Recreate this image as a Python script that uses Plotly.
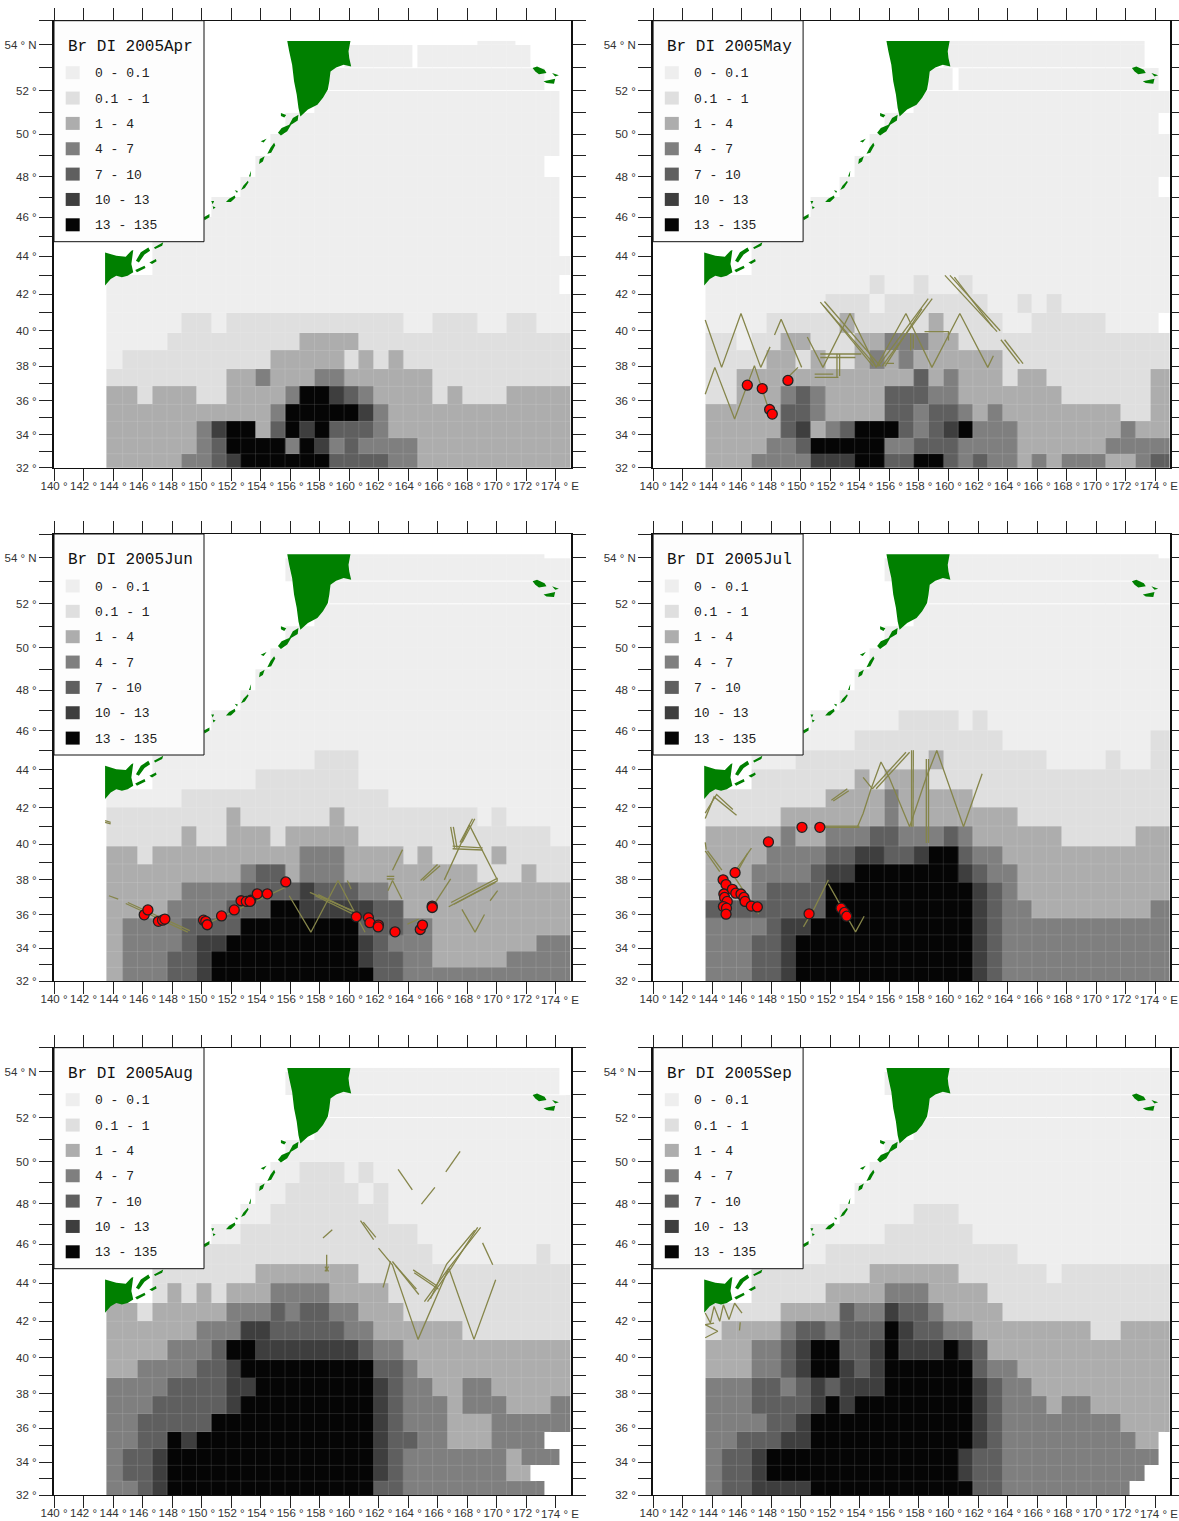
import math
import plotly.graph_objects as go

W, H = 1179, 1521
months = ["Apr", "May", "Jun", "Jul", "Aug", "Sep"]
class_labels = ["0 - 0.1", "0.1 - 1", "1 - 4", "4 - 7", "7 - 10", "10 - 13", "13 - 135"]
class_colors = ["#EEEEEE", "#DFDFDF", "#ADADAD", "#7F7F7F", "#5F5F5F", "#3E3E3E", "#050505"]

row_edges_lat = [32, 32.85, 33.8, 34.8, 35.8, 36.85, 37.85, 38.9, 39.9, 41, 42, 43, 44, 45, 46, 47, 48,
                 49, 50, 51, 52, 53, 54, 54.15]
bright_row_tops = [52, 53]

# run-length rows, bottom row first: "class*count", "." is an empty cell
apr_rows = [
 "2*5 3*2 4 5 6*6 4*4 3*2 2*11", "2*6 3 4 6*4 3 6 5 3 4 3*4 2*11",
 "2*6 3 5 6*2 2 4 6 5 6 4 4 4 3 2*2 2*11", "2*11 3 6*5 5 3 2*13",
 "2*2 1 2*3 1*2 2*3 2 3 6*2 5 4 3 2*4 1 2 1*3 2*5", "1*8 2*2 3 2*3 3*2 2*6 1*10",
 "0 1*10 2*5 1 2 1 2 1*12", "0*4 1*9 2*4 1*15", "0*5 1*2 0 1*12 0*2 1*3 0*2 1*2 0*3",
 "0*32", "0*31 .", ".*3 0*29", ".*3 0*28 .", ".*6 0*25 .", ".*7 0*24 .", ".*9 0*22 .", ".*10 0*20 .*2",
 ".*11 0*20 .", ".*12 0*19 .", ".*14 0*17 .", ".*15 0*15 .*2", ".*16 0*13 .*3", ".*25 0*3 .*4",
]
may_rows = [
 "2*3 3*4 5*3 6*2 4*2 6*2 4 3 4 3*2 2 3 2 3*3 2*2 3 4*2", "2*4 3*2 4 6*5 3*2 4*3 3*4 2*6 3*5",
 "2*5 4 5 2 3 4 6*3 4 3 4 5 6 3*3 2*7 3 2*3", "2*5 4*2 3 2*4 4*2 3 4*2 3 2 3 2*8 1*2 2*2",
 "1*2 2*3 3 4 3 2*4 4*3 3*2 2*7 1*6 2*2", "1*2 2*12 4 2 3 2*3 1 2*2 1*7 2*2",
 "1*4 2*2 1 2 1*2 2 3 2 3 2*6 1*12", "1*2 0 1*2 2*2 1*3 2*2 3*3 2*2 1*15",
 "0*4 1*5 2 1*5 2 1*4 0*2 1*5 0*4 .", "0*8 1*3 0 1*7 0*2 1 0 1 0*8", "0*11 1 0*2 1 0*2 1 0*14",
 ".*3 0*29", ".*3 0*29", ".*6 0*26", ".*7 0*25", ".*9 0*22 .", ".*10 0*22", ".*11 0*21", ".*12 0*19 .",
 ".*14 0*18", ".*15 0*16 .", ".*16 0*14 .*2", ".*16 0*14 .*2",
]
jun_rows = [
 "2 3*3 4*2 5 6*11 4*2 3*12", "2 3*3 4*2 5 6*10 5 4*2 3*2 2*5 3*5", "2 3*4 4 5*2 6*9 5 4 3*3 2*7 3*3",
 "2 3*4 4*4 6*8 4 4*2 3*2 2*10", "2*4 3*4 4*3 6*2 5*4 5 4*2 2*12", "2*5 3*4 4*4 5 4*3 3*2 2*13",
 "2*9 3 4*2 2 3*3 2*9 1*3 2 1*3", "2*2 1 2*10 3*3 2*4 1 2 1*4 2 1*5", "1*5 2 1*2 2*3 1 2*5 1*13 0*2",
 "1*8 2 1*6 2 1*9 0 1 0*5", "0*5 1*14 0*13", ".*3 0*7 1*7 0*15", ".*3 0*11 1*3 0*15",
 ".*6 0*26", ".*7 0*25", ".*9 0*23", ".*10 0*22", ".*11 0*21", ".*12 0*20", ".*14 0*18", ".*15 0*17",
 ".*12 0*20", ".*16 0*14 .*2",
]
jul_rows = [
 "3*3 4*2 5 6*12 5 4 3*12", "3*3 4*2 5 6*12 5 4 3*12", "3*3 4*2 5 6*12 5 4 3*12",
 "3*4 4 5*2 6*11 5 4 3*12", "4*8 6*10 5 4 3*2 2*8 3*2", "2*3 3 4*4 6*10 5 4 3 2*11",
 "2*3 3*4 4 5*2 6*7 5 4 3*2 2*11", "2*4 3*4 4*2 5*2 4*2 5 6*2 4 3*2 2*12",
 "2*5 3 2*2 3*3 4*2 3*3 4 3 2*6 1*5 2*3", "1*5 2*7 3 2*8 1*11", "1*8 2*4 3 2*5 1*14",
 ".*3 1*7 2 1 2*3 1*17", ".*3 0*3 1*9 2 1*7 0*4 1 0*2 1*2", ".*6 0*4 1*10 0*10 1*2",
 ".*7 0*6 1*4 0 1 0*13", ".*9 0*23", ".*10 0*22", ".*11 0*21", ".*12 0*20", ".*14 0*18", ".*15 0*17",
 ".*12 0*20", ".*16 0*15 .",
]
aug_rows = [
 "3*2 4 5 6*14 4*2 3*10 .*2", "3 4*2 5 6*14 5 4 3*7 2*2 .*3", "3 4*2 5 6*14 5 4 3*7 2 3*3 .",
 "3*2 4*2 6 5 6*12 5 4 4 3*2 2*3 3*4 .*2", "3*2 4*5 6*11 5 4 3*3 2*3 3*6",
 "3*3 4*5 5 6*9 5 4 3*3 2 3*3 2*3 3*2", "3*4 4*4 5*2 6*8 5 4 3*2 2*2 3*2 2*6",
 "2*2 3*4 4*2 5 6*9 4*2 3 2*11", "2*4 3*3 4 6*2 5*7 4 3*2 2*12", "2*6 3*3 5*2 4*5 3*2 2*6 1*8",
 "2*2 1 2*5 3*3 4 3 4*2 3*2 2*3 1*12", ".*3 1 2 1 2 1 2*3 3*4 2*4 1*13", ".*3 1*7 2*7 1*15",
 ".*6 1*16 0*7 1 0*2", ".*7 0*2 1*12 0*11", ".*9 0*2 1*8 0*13", ".*10 0*2 1*5 0 1 0*13",
 ".*11 0*2 1*3 0 1 0*14", ".*12 0*20", ".*14 0*18", ".*15 0*17", ".*12 0*19 .", ".*16 0*15 .",
]
sep_rows = [
 "3 4*2 5*4 6*11 4*2 3*9 .*3", "3 4*2 5 6*13 5 4*2 3*10 .*2", "3 4*2 5 6*13 5 4*2 3*11 .",
 "3*2 4*3 5*2 6*11 5 4 3*9 2*2 .", "3*4 4*2 5 6*11 5 4 3*8 2*4", "3*3 4*4 5 6 5 6*8 5 4 3*3 2 3*2 2*6",
 "3*3 4*2 3 4 5 4 5*3 6*6 5 4 3*2 2*10", "2*3 3*2 4 5 6*2 5 4 5 6*6 4 3*2 2*11",
 "2*3 3*2 4 5 6*2 4*2 5 6 5*3 6 5 4 2*13", "1 2*4 3 4*2 3 4*3 6 5 4*2 3*2 2*8 1*2 2*4",
 "1*5 2*4 4 3*2 5 4*2 3 2*4 1*12", ".*3 1*5 2*4 3*3 2*4 1*13", ".*3 1*8 2*6 1*6 0 1*8",
 ".*6 0*2 1*13 0*11", ".*7 0*5 1*6 0*14", ".*9 0*5 1*3 0*15", ".*10 0*22", ".*11 0*21", ".*12 0*20",
 ".*14 0*18", ".*15 0*17", ".*12 0*20", ".*16 0*16",
]
# (row index, column index) of narrow breaks in the coverage
apr_breaks = [(21, 20)]
may_breaks = [(20, 16)]

kamchatka = [(155.80,54.15),(160.08,54.15),(159.95,53.71),(160.0,53.42),(160.13,53.06),(159.62,53.13),(159.11,53.01),
             (158.73,52.84),(158.65,52.41),(158.55,52.04),(158.22,51.67),(157.84,51.36),(157.2,51.14),(156.95,50.98),
             (156.69,50.83),(156.56,51.21),(156.44,51.82),(156.26,52.41),(156.13,53.13),(155.93,53.71)]
hokkaido = [(143.46,44.2),(144.22,44.03),(144.86,43.98),(145.24,44.29),(145.37,44.33),(145.24,43.6),(145.37,43.16),
            (144.99,42.98),(144.6,42.9),(144.22,42.98),(143.84,42.8),(143.46,42.46)]
islands = [
 [(156.56,50.91),(156.18,50.76),(155.93,50.45),(155.42,50.30),(155.17,50.08),(155.37,49.95),(155.8,50.15),(156.06,50.45),(156.51,50.64)],
 [(155.37,50.99),(155.73,50.9),(155.6,50.78),(155.37,50.85)],
 [(154.91,49.61),(154.66,49.38),(154.45,49.09),(154.71,49.14),(154.99,49.5)],
 [(154.27,48.97),(153.94,48.84),(153.89,48.61),(154.15,48.72)],
 [(154.4,49.8),(154.0,49.68),(154.2,49.62)],
 [(153.35,48.28),(153.2,48.0),(153.32,48.0)],
 [(153.13,47.8),(152.82,47.56),(152.67,47.35),(152.93,47.44),(153.18,47.72)],
 [(152.24,47.33),(152.45,47.3),(152.4,47.2)],
 [(152.24,47.08),(151.86,46.92),(151.65,46.75),(151.98,46.75),(152.29,46.96)],
 [(150.65,46.8),(150.85,46.8),(150.75,46.65)],
 [(150.75,46.55),(150.95,46.5),(150.8,46.4)],
 [(150.53,46.16),(150.15,46.0),(150.2,45.85),(150.53,46.0)],
 [(147.4,44.72),(146.77,44.46),(146.85,44.38),(147.33,44.55)],
 [(146.39,44.46),(145.88,44.21),(145.55,43.77),(145.75,43.68),(146.13,44.09),(146.51,44.29)],
 [(146.9,43.86),(146.46,43.68),(146.64,43.6),(146.95,43.74)],
 [(146.13,43.51),(145.5,43.28),(145.62,43.16),(146.2,43.39)],
 [(172.42,52.99),(172.72,53.06),(173.23,52.91),(173.36,52.77),(172.85,52.72),(172.6,52.84)],
 [(173.16,52.41),(173.95,52.52),(173.87,52.3),(173.36,52.33)],
 [(173.74,52.77),(174.2,52.67),(173.95,52.62)],
]

apr_tracks, apr_dots = [], []
may_tracks = [
 [(143.53,40.59),(144.64,37.94),(145.95,40.95),(147.29,37.94),(147.92,39.1)],
 [(148.22,39.77),(148.67,40.63),(150.06,37.94)],
 [(150.44,39.65),(151.5,37.94),(153.33,40.95),(155.1,37.94),(157.12,40.95),(158.88,37.94),(160.77,40.95),(162.66,37.94),(163.04,38.6)],
 [(143.53,36.39),(144.18,37.94),(145.52,34.94),(146.86,38.04),(147.92,35.25)],
 [(149.13,37.37),(149.81,37.94)],
 [(151.32,41.57),(155.1,38.0)], [(151.6,41.6),(155.4,38.0)], [(151.5,41.4),(154.9,38.0)],
 [(155.23,38.0),(158.63,41.75)], [(155.5,38.0),(158.9,41.75)], [(155.7,38.0),(158.2,41.2)],
 [(159.76,43.0),(163.29,39.95)], [(160.1,43.0),(163.5,40.0)], [(160.4,42.9),(163.0,40.2)],
 [(163.55,39.5),(164.8,38.15)], [(163.8,39.5),(165.05,38.15)],
 [(151.32,38.7),(154.09,38.7)], [(151.32,38.5),(153.7,38.5)], [(152.45,38.7),(152.45,37.37)], [(152.63,38.7),(152.63,37.45)],
 [(150.94,37.37),(152.55,37.37)], [(150.94,37.55),(152.2,37.55)], [(155.73,38.17),(156.31,38.17)],
 [(157.44,39.86),(157.44,38.9)], [(157.62,39.8),(157.62,39.0)], [(158.38,39.95),(160.0,39.95),(160.0,39.45)],
]
may_dots = [(146.38,36.92),(147.39,36.72),(147.89,35.5),(148.07,35.23),(149.13,37.19)]
jun_tracks = [
 [(143.72,37.09),(144.35,36.9)], [(144.86,36.64),(149.06,34.96)], [(145.0,36.7),(149.2,35.05)],
 [(143.46,41.3),(143.84,41.2)], [(143.46,41.2),(143.84,41.12)], [(150.08,35.35),(155.67,37.57)],
 [(155.93,37.09),(157.4,34.96),(159.24,37.96),(161.07,34.96)],
 [(157.33,37.28),(160.5,36.12)], [(157.7,37.09),(160.5,35.92)], [(157.9,37.15),(160.2,36.2)],
 [(159.87,37.96),(160.13,37.47)], [(162.54,38.2),(163.05,38.2)], [(162.54,38.05),(163.05,38.05)],
 [(162.62,37.38),(162.93,37.96),(163.56,36.9)], [(162.93,38.54),(163.61,39.7)], [(163.94,35.44),(164.7,35.73)],
 [(164.83,37.96),(165.98,38.87)], [(165.0,37.96),(166.15,38.8)],
 [(165.6,36.4),(166.87,38.06)], [(166.44,38),(168.14,41.05),(170.05,37.96)],
 [(167,39.9),(169.03,39.8)], [(167,39.75),(169.03,39.68)], [(166.87,40.96),(167.13,39.8)], [(167.05,40.96),(167.3,39.8)],
 [(167.5,40.1),(168.35,41.4)], [(167.65,40.1),(168.5,41.4)],
 [(170.05,37.96),(166.74,36.45)], [(170.05,38.1),(166.9,36.7)], [(169.9,37.85),(167.1,36.6)],
 [(170.05,37.38),(169.54,36.8)], [(167.63,36.3),(168.52,34.96),(169.16,36.0)],
]
jun_dots = [(146.11,35.98),(146.36,36.27),(147.07,35.6),(147.35,35.67),(147.51,35.73),(150.13,35.67),(150.28,35.6),
            (150.38,35.4),(151.35,35.92),(152.21,36.27),(152.67,36.8),(153.03,36.76),(153.33,36.83),(153.28,36.76),
            (153.77,37.2),(154.45,37.2),(155.7,37.88),(160.48,35.87),(161.3,35.81),(161.4,35.52),(161.98,35.38),
            (161.96,35.27),(163.1,34.98),(164.81,35.12),(164.96,35.38),(165.62,36.49),(165.62,36.41)]
jul_tracks = [
 [(143.53,41.41),(144.13,42.57),(145.65,41.59)], [(143.53,41.7),(144.3,42.7),(145.4,41.9)],
 [(143.53,40.1),(143.6,39.7)], [(143.53,39.63),(144.51,38.47)], [(143.68,39.63),(144.66,38.55)],
 [(145.52,38.45),(146.66,39.79)], [(145.7,38.45),(146.4,39.5)], [(145.52,38.15),(147.16,36.02)],
 [(151.44,40.93),(153.97,40.93)], [(151.44,41.0),(153.97,41.0)],
 [(153.84,40.96),(154.22,41.68),(154.72,42.91),(155.43,44.4),(155.98,43.61),(157.37,40.96),(158.5,43.61),(159.21,44.99),(161.02,40.96),(162.28,43.79)],
 [(154.22,43.6),(154.85,43.0)], [(154.85,43.0),(157.12,44.9)], [(155.1,43.0),(157.37,44.9)],
 [(152.07,42.39),(153.15,43.0)], [(152.2,42.35),(153.25,42.9)],
 [(157.5,45),(157.5,40.96)], [(157.62,45),(157.6,40.96)], [(158.5,44.55),(158.5,40.07)], [(158.65,44.55),(158.65,40.07)],
 [(150.18,35.27),(150.94,36.4),(151.87,38)], [(151.87,37.77),(153.71,34.98),(154.29,35.9)],
]
jul_dots = [(144.74,38.0),(144.94,37.73),(144.79,37.19),(144.84,36.99),(145.02,36.76),(144.76,36.46),(144.97,36.37),
            (144.94,36.02),(145.37,37.46),(145.6,37.24),(145.95,37.19),(146.15,36.99),(146.23,36.76),(146.65,36.49),
            (147.06,36.44),(145.55,38.41),(147.81,40.13),(150.08,40.93),(151.29,40.93),(150.56,36.04),(152.73,36.37),
            (152.96,36.12),(153.11,35.9)]
aug_tracks = [
 [(163.31,49.63),(164.27,48.66)], [(166.54,49.52),(167.51,50.47)], [(164.89,47.98),(165.8,48.78)],
 [(160.76,47.18),(161.65,46.23)], [(160.95,47.1),(161.8,46.35)],
 [(158.22,46.31),(158.85,46.72)], [(158.47,45.47),(158.47,44.62)], [(158.35,44.87),(158.6,44.62)], [(158.6,44.87),(158.35,44.62)],
 [(162.29,43.79),(162.8,45.14)],
 [(161.98,45.81),(162.92,44.96),(164.66,41.02),(166.74,44.79),(168.45,41.02),(169.92,44.19)],
 [(162.92,45.13),(164.71,43.42)], [(163.15,44.9),(164.55,43.7)],
 [(165.09,43.05),(166.74,44.79),(168.9,46.84)], [(165.3,43.05),(166.9,44.79),(168.7,46.84)], [(165.5,43.2),(166.6,45.0),(168.5,46.7)],
 [(164.33,44.7),(165.98,43.85)], [(164.4,44.55),(166.05,43.7)], [(169.03,46.07),(169.72,44.96)],
]
aug_dots = []
sep_tracks = [
 [(143.53,42.44),(143.88,41.91),(144.13,42.79),(144.51,42.0),(144.76,42.88),(145.14,42.09),(145.52,42.96),(146.02,42.44)],
 [(143.53,41.11),(144.38,41.46),(143.53,41.82),(144.13,41.9)],
 [(145.9,41.95),(145.85,41.5)],
]
sep_dots = []

panel_rows = [apr_rows, may_rows, jun_rows, jul_rows, aug_rows, sep_rows]
panel_breaks = [apr_breaks, may_breaks, [], [], [], []]
panel_tracks = [apr_tracks, may_tracks, jun_tracks, jul_tracks, aug_tracks, sep_tracks]
panel_dots = [apr_dots, may_dots, jun_dots, jul_dots, aug_dots, sep_dots]

# frame pixels of each panel: left, right, top, bottom
FRAMES = [(54, 570.7, 20.7, 467.7), (653.1, 1170, 20.7, 467.7),
          (54, 570.7, 534, 981.3), (653.1, 1170, 534, 981.3),
          (54, 570.7, 1047.7, 1495), (653.1, 1170, 1047.7, 1495)]


def merc(lat):
    return math.asinh(math.tan(math.radians(lat)))


def expand(row):
    out = []
    for tok in row.split():
        k, _, n = tok.partition("*")
        out += [None if k == "." else int(k)] * (int(n) if n else 1)
    assert len(out) == 32, (row, len(out))
    return out


lon_starts = [143.55] + [143.65 + c for c in range(1, 32)]
lon_ends = [144.65 + c for c in range(31)] + [175.0]
sub_edges = [143.55]
for c in range(1, 32):
    sub_edges += [143.25 + c, 143.65 + c]
sub_edges.append(175.0)
y_edges = [merc(v) for v in row_edges_lat]

step = []
for i, col in enumerate(class_colors):
    step += [[i / 7, col], [(i + 1) / 7, col]]

fig = go.Figure()
shapes, annos = [], []
lat_ticks = list(range(32, 56))
lat_text = [("" if v % 2 or v == 55 else (f"{v} ° N" if v == 54 else f"{v} °")) for v in lat_ticks]
lon_ticks = list(range(140, 176, 2))
lon_text = [("" if v == 174 else f"{v} °") for v in lon_ticks]
land_x, land_y = [], []
for poly in [kamchatka, hokkaido] + islands:
    p = poly + [poly[0]]
    land_x += [q[0] for q in p] + [None]
    land_y += [merc(q[1]) for q in p] + [None]

layout = {}
for i, (l, r, t, b) in enumerate(FRAMES):
    sfx = "" if i == 0 else str(i + 1)
    grid = [expand(x) for x in panel_rows[i]]
    z = []
    for ri, row in enumerate(grid):
        line = []
        for c, v in enumerate(row):
            line.append(v)
            if c < 31:
                nxt = row[c + 1]
                cut = v is None or nxt is None or (ri, c) in panel_breaks[i]
                line.append(None if cut else v)
        z.append(line)
    fig.add_trace(go.Heatmap(x=sub_edges, y=y_edges, z=z, zmin=0, zmax=7, colorscale=step, showscale=False,
                             hoverinfo="skip", xaxis="x" + sfx, yaxis="y" + sfx))
    sx, sy, bx, by = [], [], [], []
    for ri, row in enumerate(grid):
        for c, v in enumerate(row):
            if v is None:
                continue
            if c < 31 and row[c + 1] is not None:
                sx += [lon_ends[c], lon_ends[c], None]
                sy += [y_edges[ri], y_edges[ri + 1], None]
            if ri + 1 < len(grid) and grid[ri + 1][c] is not None:
                if row_edges_lat[ri + 1] in bright_row_tops:
                    bx += [lon_starts[c], lon_ends[c], None]
                    by += [y_edges[ri + 1], y_edges[ri + 1], None]
                else:
                    sx += [lon_starts[c], lon_ends[c], None]
                    sy += [y_edges[ri + 1], y_edges[ri + 1], None]
    fig.add_trace(go.Scatter(x=sx, y=sy, mode="lines", line=dict(color="rgba(255,255,255,0.12)", width=1),
                             hoverinfo="skip", showlegend=False, xaxis="x" + sfx, yaxis="y" + sfx))
    fig.add_trace(go.Scatter(x=bx, y=by, mode="lines", line=dict(color="rgba(255,255,255,0.9)", width=1),
                             hoverinfo="skip", showlegend=False, xaxis="x" + sfx, yaxis="y" + sfx))
    fig.add_trace(go.Scatter(x=land_x, y=land_y, mode="lines", fill="toself", fillcolor="#008000",
                             line=dict(color="#008000", width=0), hoverinfo="skip", showlegend=False,
                             xaxis="x" + sfx, yaxis="y" + sfx))
    tx, ty = [], []
    for tr in panel_tracks[i]:
        tx += [q[0] for q in tr] + [None]
        ty += [merc(q[1]) for q in tr] + [None]
    if tx:
        fig.add_trace(go.Scatter(x=tx, y=ty, mode="lines", line=dict(color="#85854A", width=1.3),
                                 hoverinfo="skip", showlegend=False, xaxis="x" + sfx, yaxis="y" + sfx))
    d = panel_dots[i]
    if d:
        fig.add_trace(go.Scatter(x=[q[0] for q in d], y=[merc(q[1]) for q in d], mode="markers",
                                 marker=dict(color="#FF0000", size=10, line=dict(color="#222222", width=1.3)),
                                 hoverinfo="skip", showlegend=False, xaxis="x" + sfx, yaxis="y" + sfx))
    tick_font = dict(family="Liberation Sans", size=11.5, color="#333333")
    layout["xaxis" + sfx] = dict(domain=[l / W, r / W], range=[140, 175], anchor="y" + sfx, showgrid=False,
                                 zeroline=False, tickmode="array", tickvals=lon_ticks, ticktext=lon_text,
                                 ticks="outside", ticklen=12, tickwidth=1, tickcolor="#222222", tickangle=0,
                                 showline=True, linecolor="#111111", linewidth=1.2, mirror="allticks",
                                 tickfont=tick_font, ticklabelstandoff=-5)
    layout["yaxis" + sfx] = dict(domain=[1 - b / H, 1 - t / H], range=[merc(32), merc(55)], anchor="x" + sfx,
                                 showgrid=False, zeroline=False, tickmode="array",
                                 tickvals=[merc(v) for v in lat_ticks], ticktext=lat_text,
                                 ticks="outside", ticklen=13, tickwidth=1, tickcolor="#222222",
                                 showline=True, linecolor="#111111", linewidth=2, mirror="allticks",
                                 tickfont=tick_font)
    annos.append(dict(xref="paper", yref="paper", x=(l + 486) / W, y=1 - (b + 18.5) / H, xanchor="left",
                      yanchor="middle", showarrow=False, text="174 ° E", font=tick_font, borderpad=0))
    # legend box
    shapes.append(dict(type="rect", xref="paper", yref="paper", x0=l / W, x1=(l + 150) / W,
                       y0=1 - (t + 221) / H, y1=1 - t / H, fillcolor="#FDFDFD",
                       line=dict(color="#111111", width=1), layer="above"))
    annos.append(dict(xref="paper", yref="paper", x=(l + 11.7) / W, y=1 - (t + 26.5) / H, xanchor="left",
                      yanchor="middle", showarrow=False, text=f"Br DI 2005{months[i]}",
                      font=dict(family="Liberation Mono", size=16, color="#111111")))
    for k, lab in enumerate(class_labels):
        cy = t + 52 + 25.35 * k
        shapes.append(dict(type="rect", xref="paper", yref="paper", x0=(l + 11.7) / W, x1=(l + 25.7) / W,
                           y0=1 - (cy + 6.5) / H, y1=1 - (cy - 6.5) / H, fillcolor=class_colors[k],
                           line=dict(width=0), layer="above"))
        annos.append(dict(xref="paper", yref="paper", x=(l + 39) / W, y=1 - (cy + 1) / H, xanchor="left",
                          yanchor="middle", showarrow=False, text=lab,
                          font=dict(family="Liberation Mono", size=13, color="#222222")))

fig.update_layout(width=W, height=H, margin=dict(l=0, r=0, t=0, b=0, autoexpand=False), paper_bgcolor="white",
                  plot_bgcolor="white", showlegend=False, shapes=shapes, annotations=annos, **layout)
fig.write_html("out.html", post_script="document.body.style.margin='0';", config={"displayModeBar": False})
